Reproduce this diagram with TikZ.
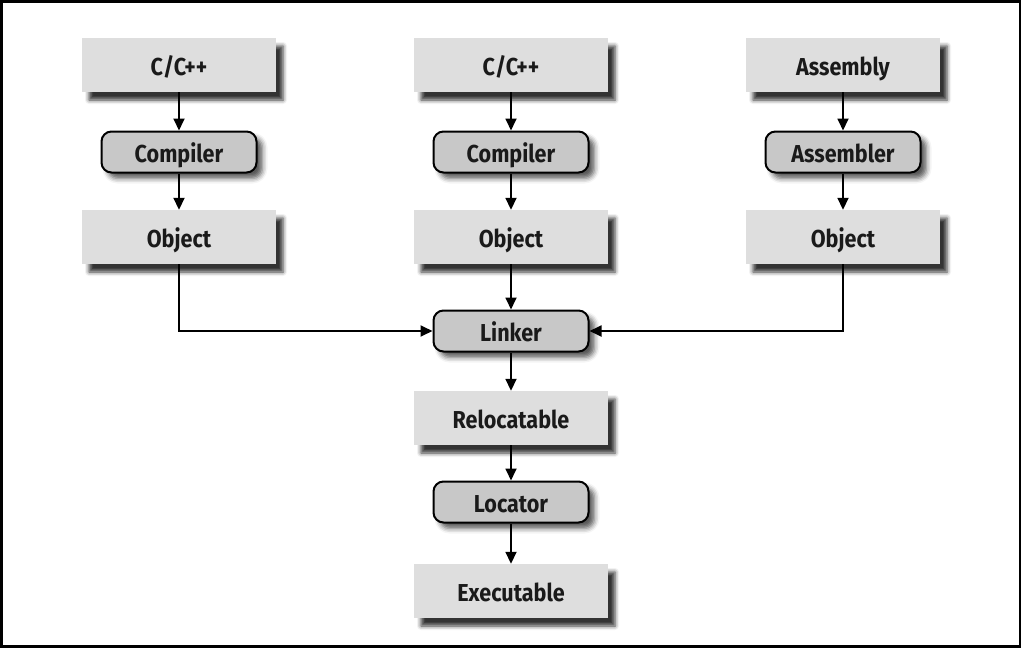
\documentclass[tikz,border=0pt]{standalone}
\usepackage{fontspec}
\setmainfont{Fira Sans}[FakeStretch=0.88]
\usetikzlibrary{arrows.meta,shadows.blur,positioning}
\definecolor{lightbox}{HTML}{DEDEDE}
\definecolor{darkbox}{HTML}{C8C8C8}
\definecolor{txt}{HTML}{1A1A1A}
\tikzset{
  labelfont/.style={font=\fontsize{24.5}{26}\selectfont\bfseries, text=txt,
    text height=20pt, text depth=0pt},
  filebox/.style={draw=none, fill=lightbox, minimum width=194pt, minimum height=54pt,
    inner sep=0pt, labelfont,
    blur shadow={shadow xshift=7pt, shadow yshift=-8pt, shadow blur radius=4pt, shadow opacity=80}},
  toolbox/.style={draw=black, line width=2pt, fill=darkbox, rounded corners=10pt,
    minimum width=155pt, minimum height=41pt, inner sep=0pt, labelfont,
    blur shadow={shadow xshift=6pt, shadow yshift=-6pt, shadow blur radius=5pt, shadow opacity=65}},
  flow/.style={line width=1.8pt, -{Triangle[length=12pt,width=11pt]}}
}
\begin{document}
\begin{tikzpicture}[x=1pt,y=-1pt]
\useasboundingbox (0,0) rectangle (1021,648);
\draw[line width=3pt] (1,1) rectangle (1020,646.5);
% left column
\node[filebox] (src1) at (179,65) {C/C++};
\node[toolbox] (comp1) at (179,152) {Compiler};
\node[filebox] (obj1) at (179,237) {Object};
% middle column
\node[filebox] (src2) at (511,65) {C/C++};
\node[toolbox] (comp2) at (511,152) {Compiler};
\node[filebox] (obj2) at (511,237) {Object};
% right column
\node[filebox] (src3) at (843,65) {Assembly};
\node[toolbox] (asm) at (843,152) {Assembler};
\node[filebox] (obj3) at (843,237) {Object};
% lower chain
\node[toolbox] (link) at (511,331) {Linker};
\node[filebox] (reloc) at (511,418) {Relocatable};
\node[toolbox] (loc) at (511,502) {Locator};
\node[filebox] (exe) at (511,591) {Executable};
% arrows
\draw[flow] (src1) -- (comp1);
\draw[flow] (comp1) -- (obj1);
\draw[flow] (src2) -- (comp2);
\draw[flow] (comp2) -- (obj2);
\draw[flow] (src3) -- (asm);
\draw[flow] (asm) -- (obj3);
\draw[flow] (obj2) -- (link);
\draw[flow] (obj1.south) |- (link.west);
\draw[flow] (obj3.south) |- (link.east);
\draw[flow] (link) -- (reloc);
\draw[flow] (reloc) -- (loc);
\draw[flow] (loc) -- (exe);
\end{tikzpicture}
\end{document}
